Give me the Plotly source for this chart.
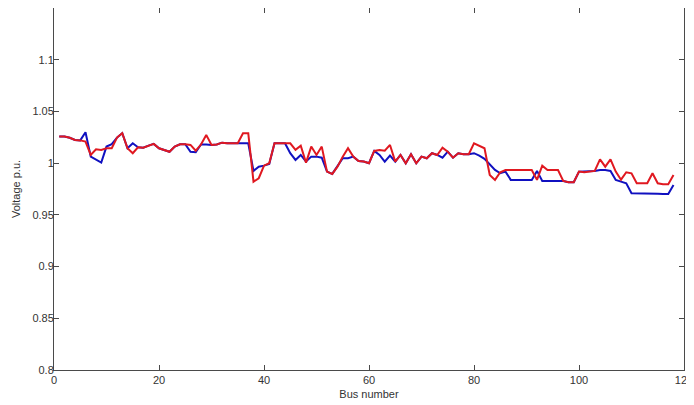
import plotly.graph_objects as go

bus = list(range(1, 119))

# Voltage profile, case 1 (blue)
v_blue = [
    1.0257, 1.0257, 1.0245, 1.0224, 1.0220, 1.0299, 1.0063, 1.0031, 1.0005, 1.0160,
    1.0183, 1.0247, 1.0289, 1.0144, 1.0192, 1.0153, 1.0150, 1.0169, 1.0186, 1.0144,
    1.0125, 1.0110, 1.0160, 1.0183, 1.0183, 1.0110, 1.0105, 1.0180, 1.0180, 1.0176,
    1.0180, 1.0198, 1.0192, 1.0192, 1.0192, 1.0192, 1.0192, 0.9925, 0.9966, 0.9976,
    0.9992, 1.0192, 1.0192, 1.0192, 1.0096, 1.0031, 1.0079, 1.0015, 1.0063, 1.0063,
    1.0053, 0.9918, 0.9896, 0.9966, 1.0047, 1.0047, 1.0063, 1.0021, 1.0015, 0.9999,
    1.0118, 1.0079, 1.0015, 1.0073, 1.0015, 1.0079, 0.9999, 1.0086, 0.9999, 1.0063,
    1.0047, 1.0096, 1.0079, 1.0053, 1.0111, 1.0053, 1.0096, 1.0086, 1.0086, 1.0096,
    1.0073, 1.0041, 0.9982, 0.9934, 0.9902, 0.9918, 0.9838, 0.9838, 0.9838, 0.9838,
    0.9838, 0.9925, 0.9828, 0.9828, 0.9828, 0.9828, 0.9828, 0.9815, 0.9815, 0.9918,
    0.9918, 0.9925, 0.9925, 0.9934, 0.9934, 0.9925, 0.9838, 0.9821, 0.9805, 0.9709,
    0.9709, 0.9709, 0.9709, 0.9712, 0.9705, 0.9702, 0.9702, 0.9789,
]

# Voltage profile, case 2 (red)
v_red = [
    1.0257, 1.0257, 1.0245, 1.0224, 1.0220, 1.0208, 1.0079, 1.0134, 1.0128, 1.0144,
    1.0144, 1.0247, 1.0289, 1.0144, 1.0096, 1.0153, 1.0150, 1.0169, 1.0186, 1.0144,
    1.0125, 1.0110, 1.0160, 1.0183, 1.0183, 1.0176, 1.0120, 1.0180, 1.0273, 1.0176,
    1.0180, 1.0198, 1.0192, 1.0192, 1.0192, 1.0289, 1.0289, 0.9821, 0.9854, 0.9976,
    0.9999, 1.0192, 1.0192, 1.0192, 1.0192, 1.0128, 1.0169, 1.0005, 1.0160, 1.0079,
    1.0160, 0.9918, 0.9896, 0.9966, 1.0063, 1.0144, 1.0063, 1.0021, 1.0015, 0.9999,
    1.0118, 1.0128, 1.0120, 1.0176, 1.0015, 1.0079, 0.9999, 1.0086, 0.9999, 1.0063,
    1.0047, 1.0096, 1.0079, 1.0150, 1.0111, 1.0053, 1.0096, 1.0086, 1.0086, 1.0192,
    1.0169, 1.0144, 0.9886, 0.9838, 0.9912, 0.9934, 0.9934, 0.9934, 0.9934, 0.9934,
    0.9934, 0.9838, 0.9976, 0.9934, 0.9934, 0.9934, 0.9828, 0.9815, 0.9815, 0.9918,
    0.9912, 0.9918, 0.9925, 1.0037, 0.9966, 1.0037, 0.9918, 0.9840, 0.9912, 0.9902,
    0.9805, 0.9805, 0.9805, 0.9902, 0.9805, 0.9796, 0.9796, 0.9886,
]

x_ticks = [0, 20, 40, 60, 80, 100, 120]
y_ticks = [0.8, 0.85, 0.9, 0.95, 1.0, 1.05, 1.1]
y_tick_labels = ["0.8", "0.85", "0.9", "0.95", "1", "1.05", "1.1"]

fig = go.Figure()
fig.add_trace(go.Scatter(x=bus, y=v_blue, mode="lines",
                         line=dict(color="#1010c0", width=2), showlegend=False))
fig.add_trace(go.Scatter(x=bus, y=v_red, mode="lines",
                         line=dict(color="#e01820", width=2), showlegend=False))

axis_common = dict(
    showline=True, linecolor="#4a4a4a", linewidth=1, mirror="ticks",
    ticks="inside", ticklen=5, tickcolor="#4a4a4a", tickwidth=1,
    showgrid=False, zeroline=False, automargin=False,
    tickfont=dict(family="Liberation Sans, Arial, sans-serif", size=11, color="#333333"),
)

# The page body adds an 8px offset; size/margins compensate for it.
fig.update_layout(
    template="none",
    width=686, height=397,
    margin=dict(l=46, r=10, t=0, b=35),
    paper_bgcolor="white", plot_bgcolor="white",
    font=dict(family="Liberation Sans, Arial, sans-serif", size=11, color="#333333"),
    xaxis=dict(range=[0, 120], tickvals=x_ticks,
               title=dict(text="Bus number", standoff=5,
                          font=dict(size=11, color="#333333")),
               **axis_common),
    yaxis=dict(range=[0.8, 1.15], tickvals=y_ticks, ticktext=y_tick_labels,
               ticklabelstandoff=-3,
               title=dict(text="Voltage p.u.", standoff=9,
                          font=dict(size=11, color="#333333")),
               **axis_common),
)

fig.write_html("out.html")
